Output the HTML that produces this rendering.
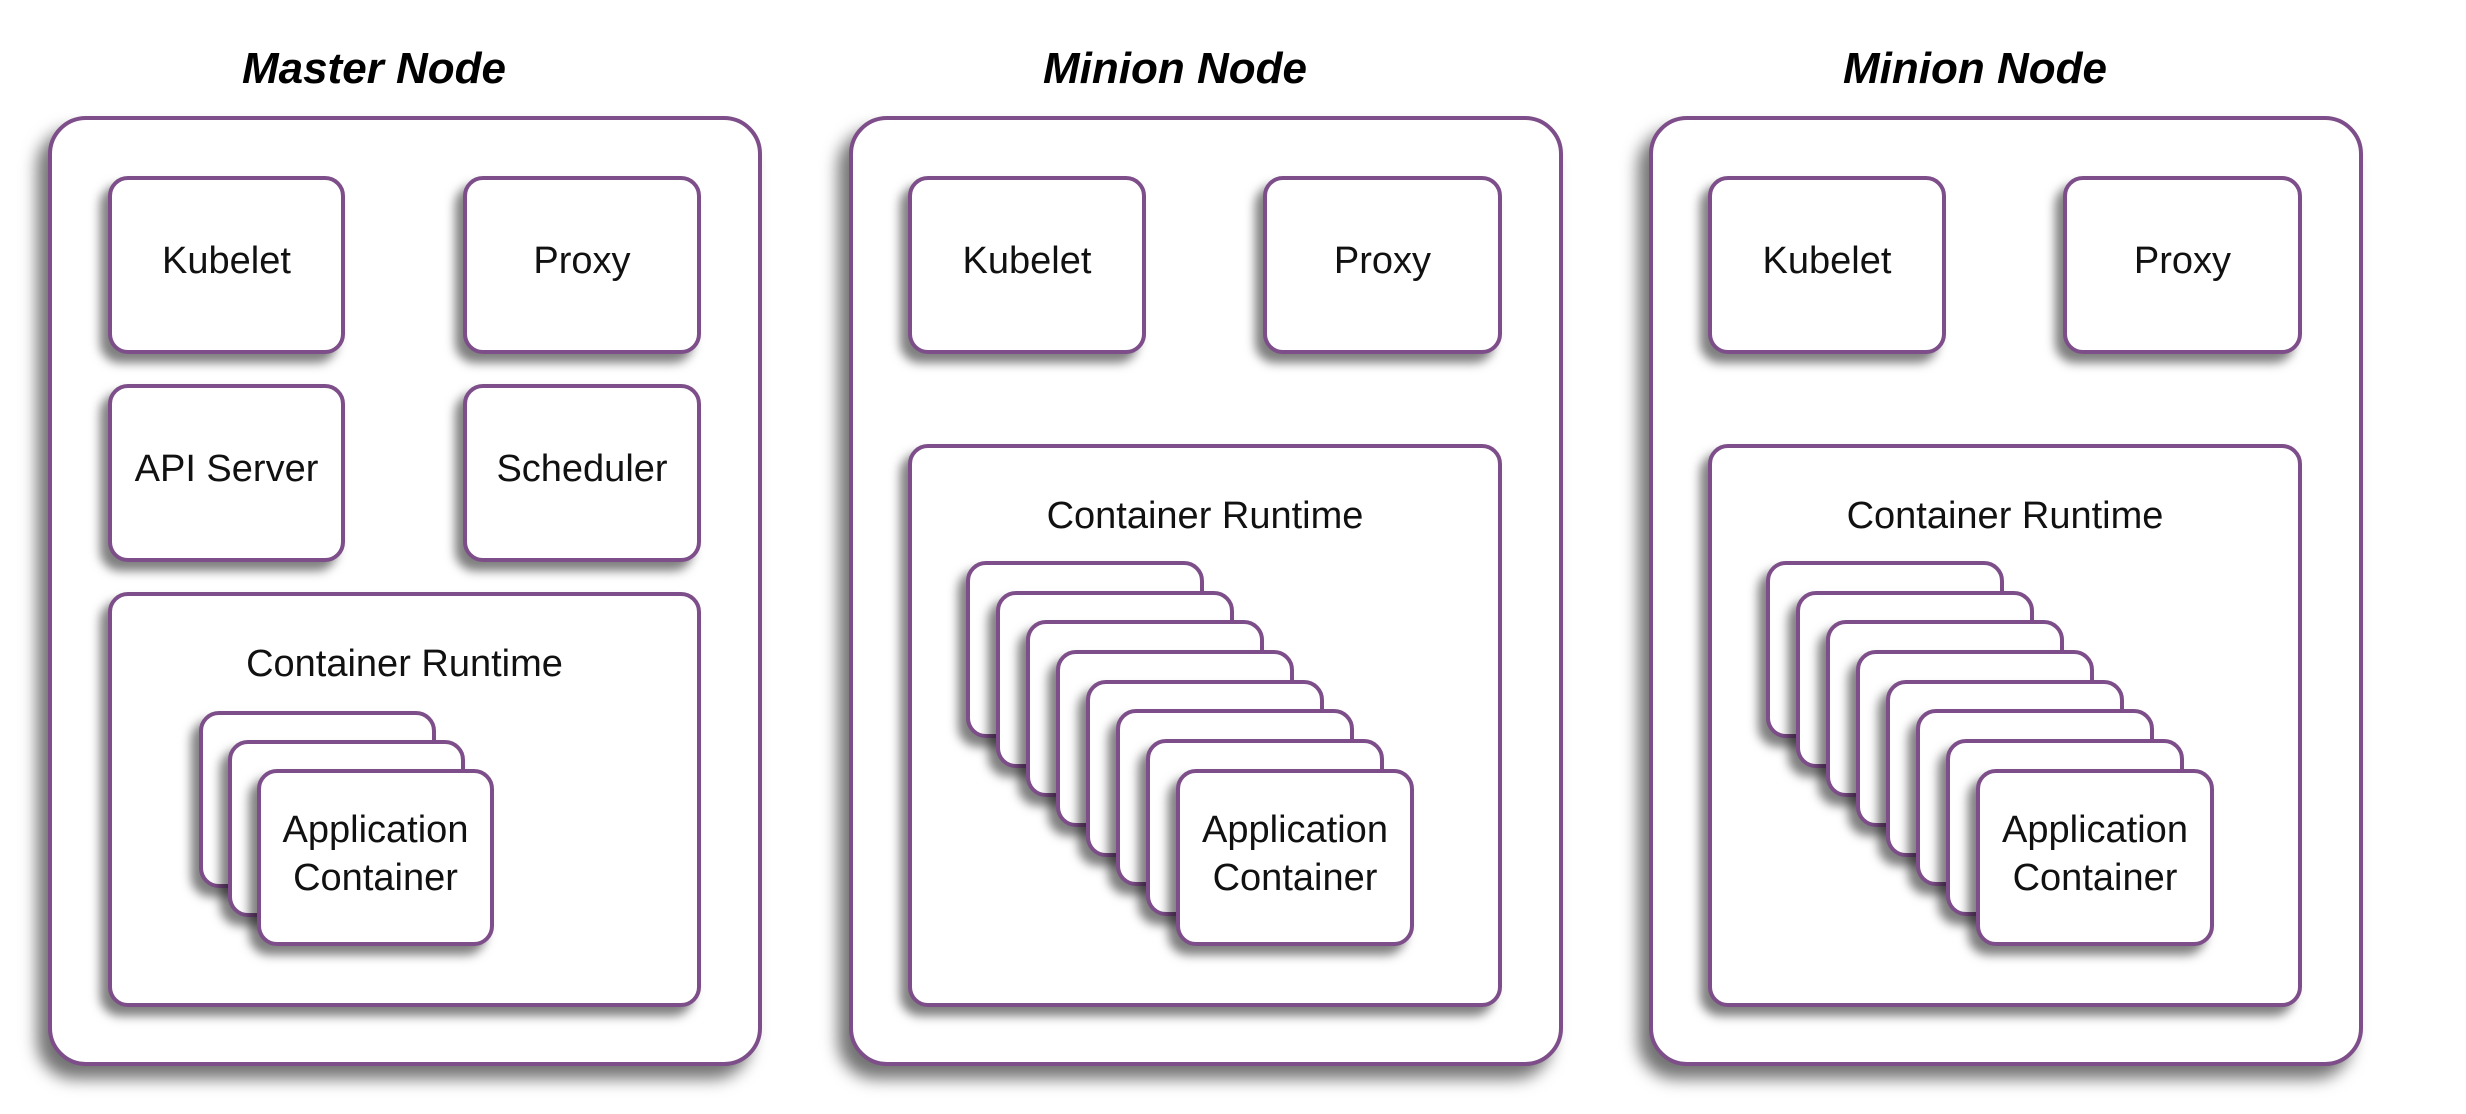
<!DOCTYPE html>
<html><head><meta charset="utf-8"><style>
body{margin:0;width:2466px;height:1114px;background:#fff;position:relative;overflow:hidden;font-family:"Liberation Sans",sans-serif;}
.p{position:absolute;box-sizing:border-box;border:4px solid #7d4e89;background:#fff;border-radius:38px;box-shadow:-11px 13px 16px rgba(0,0,0,0.55);}
.b{position:absolute;box-sizing:border-box;border:4px solid #7d4e89;background:#fff;border-radius:20px;box-shadow:-8px 9px 10px rgba(0,0,0,0.5);display:flex;align-items:center;justify-content:center;font-size:38px;color:#111;text-align:center;line-height:48px;padding-bottom:8px;}
.cr{align-items:flex-start;padding-top:44px;padding-bottom:0;}
.t{position:absolute;font-weight:bold;font-style:italic;font-size:44px;color:#000;width:500px;text-align:center;top:44px;}
</style></head><body>
<div class="t" style="left:124px">Master Node</div>
<div class="t" style="left:925px">Minion Node</div>
<div class="t" style="left:1725px">Minion Node</div>

<div class="p" style="left:48px;top:116px;width:714px;height:950px"></div>
<div class="b" style="left:108px;top:176px;width:237px;height:178px">Kubelet</div>
<div class="b" style="left:463px;top:176px;width:238px;height:178px">Proxy</div>
<div class="b" style="left:108px;top:384px;width:237px;height:178px">API Server</div>
<div class="b" style="left:463px;top:384px;width:238px;height:178px">Scheduler</div>
<div class="b cr" style="left:108px;top:592px;width:593px;height:415px">Container Runtime</div>
<div class="b" style="left:199px;top:711px;width:237px;height:177px"></div>
<div class="b" style="left:228px;top:740px;width:237px;height:177px"></div>
<div class="b" style="left:257px;top:769px;width:237px;height:177px">Application<br>Container</div>

<div class="p" style="left:849px;top:116px;width:714px;height:950px"></div>
<div class="b" style="left:908px;top:176px;width:238px;height:178px">Kubelet</div>
<div class="b" style="left:1263px;top:176px;width:239px;height:178px">Proxy</div>
<div class="b cr" style="left:908px;top:444px;width:594px;height:563px">Container Runtime</div>
<div class="b" style="left:966px;top:561px;width:238px;height:177px"></div>
<div class="b" style="left:996px;top:591px;width:238px;height:177px"></div>
<div class="b" style="left:1026px;top:620px;width:238px;height:177px"></div>
<div class="b" style="left:1056px;top:650px;width:238px;height:177px"></div>
<div class="b" style="left:1086px;top:680px;width:238px;height:177px"></div>
<div class="b" style="left:1116px;top:709px;width:238px;height:177px"></div>
<div class="b" style="left:1146px;top:739px;width:238px;height:177px"></div>
<div class="b" style="left:1176px;top:769px;width:238px;height:177px">Application<br>Container</div>

<div class="p" style="left:1649px;top:116px;width:714px;height:950px"></div>
<div class="b" style="left:1708px;top:176px;width:238px;height:178px">Kubelet</div>
<div class="b" style="left:2063px;top:176px;width:239px;height:178px">Proxy</div>
<div class="b cr" style="left:1708px;top:444px;width:594px;height:563px">Container Runtime</div>
<div class="b" style="left:1766px;top:561px;width:238px;height:177px"></div>
<div class="b" style="left:1796px;top:591px;width:238px;height:177px"></div>
<div class="b" style="left:1826px;top:620px;width:238px;height:177px"></div>
<div class="b" style="left:1856px;top:650px;width:238px;height:177px"></div>
<div class="b" style="left:1886px;top:680px;width:238px;height:177px"></div>
<div class="b" style="left:1916px;top:709px;width:238px;height:177px"></div>
<div class="b" style="left:1946px;top:739px;width:238px;height:177px"></div>
<div class="b" style="left:1976px;top:769px;width:238px;height:177px">Application<br>Container</div>
</body></html>
